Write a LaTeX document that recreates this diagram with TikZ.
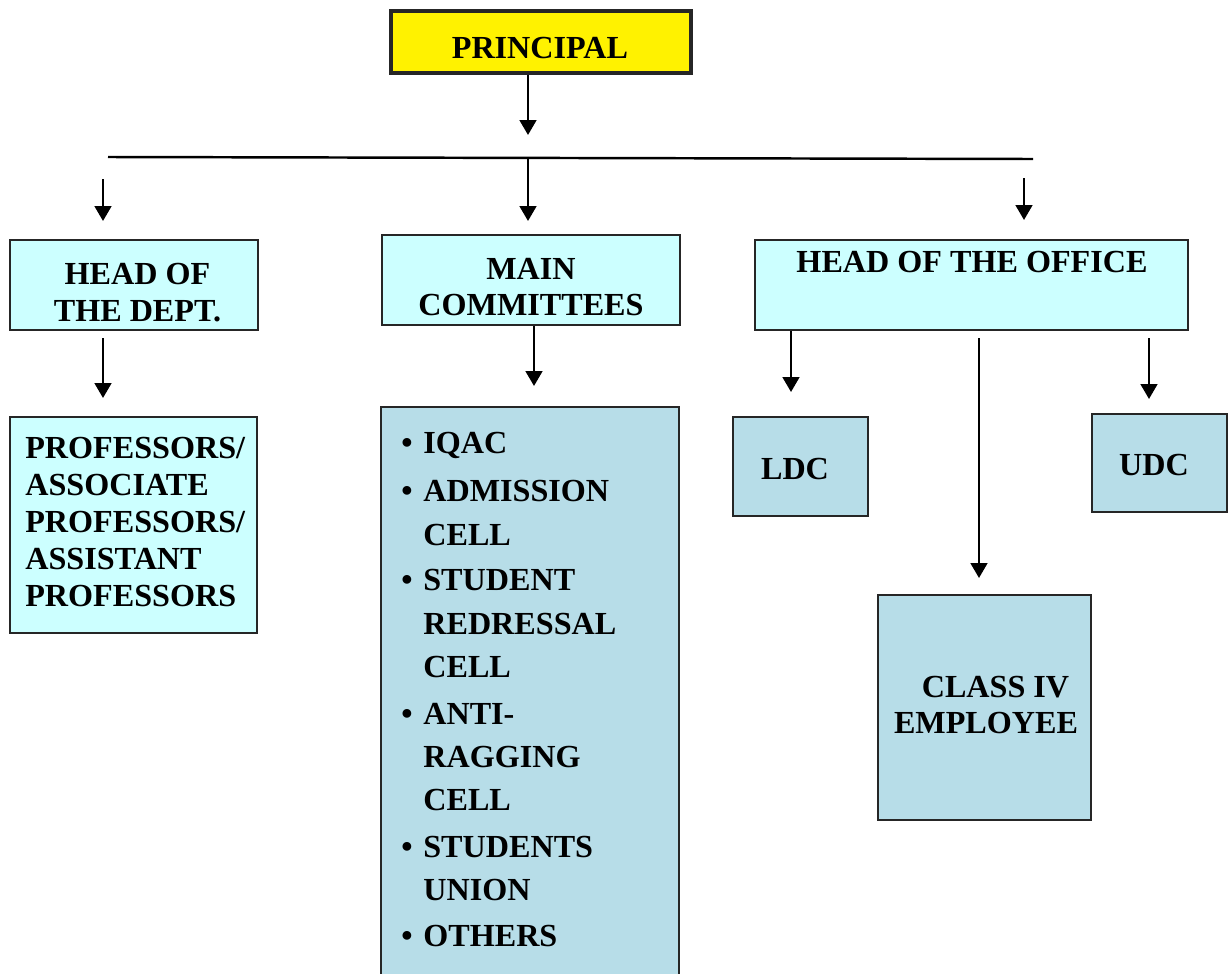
\documentclass[tikz,border=0pt]{standalone}
\usepackage{fontspec}
\setmainfont{Liberation Serif}
\usetikzlibrary{arrows.meta,fit}

\definecolor{paleCyan}{HTML}{CCFFFF}
\definecolor{paleBlue}{HTML}{B7DDE8}

\tikzset{
  box/.style={draw=black!85, line width=.8pt, inner sep=0pt},
  txt/.style={font=\bfseries\fontsize{18.3}{21}\selectfont, inner sep=0pt, align=center},
  link/.style={line width=1.4pt},
  arr/.style={line width=1.4pt, -{Triangle[width=9.5pt,length=8.5pt]}},
}

\begin{document}
\begin{tikzpicture}[x=0.02cm, y=-0.02cm]
  \useasboundingbox (0,0) rectangle (1232,974);

  % principal
  \node[box, fill=yellow, line width=2.2pt, fit={(391,11) (691,73)}] (principal) {};
  \node[txt] (principalTxt) at (540,48.5) {PRINCIPAL};

  % second level
  \node[box, fill=paleCyan, fit={(10,240) (258,330)}] (hod) {};
  \node[txt] (hodTxt) at (137.5,292.5) {HEAD OF\\THE DEPT.};
  \node[box, fill=paleCyan, fit={(382,235) (680,325)}] (main) {};
  \node[txt] (mainTxt) at (531,287) {MAIN\\COMMITTEES};
  \node[box, fill=paleCyan, fit={(755,240) (1188,330)}] (office) {};
  \node[txt] (officeTxt) at (972,262) {HEAD OF THE OFFICE};

  % third level
  \node[box, fill=paleCyan, fit={(10,417) (257,633)}] (prof) {};
  \node[txt, align=left, anchor=north west] (profTxt) at (25,437)
    {PROFESSORS/\\ASSOCIATE\\PROFESSORS/\\ASSISTANT\\PROFESSORS};
  \node[box, fill=paleBlue, fit={(381,407) (679,990)}] (cells) {};
  \foreach \y/\txt/\b [count=\i] in {453/IQAC/1, 501/ADMISSION/1, 545/CELL/0,
      590/STUDENT/1, 634/REDRESSAL/0, 677/CELL/0, 724/ANTI-/1, 767/RAGGING/0,
      810/CELL/0, 857/STUDENTS/1, 900/UNION/0, 946/OTHERS/1} {
    \node[txt, anchor=base west] (line\i) at (423,\y) {\txt};
    \ifnum\b=1 \node[txt, anchor=base] (bul\i) at (407,\y) {\textbullet}; \fi
  }
  \node[box, fill=paleBlue, fit={(733,417) (868,516)}] (ldc) {};
  \node[txt] (ldcTxt) at (795,469) {LDC};
  \node[box, fill=paleBlue, fit={(1092,414) (1227,512)}] (udc) {};
  \node[txt] (udcTxt) at (1154,465) {UDC};
  \node[box, fill=paleBlue, fit={(878,595) (1091,820)}] (classIV) {};
  \node[txt] (classTxt) at (986,705) {\hspace*{.38cm}CLASS IV\\EMPLOYEE};

  % connectors
  \coordinate (p1) at (528,135);
  \draw[arr] (principal.south -| p1) -- (p1);
  \coordinate (barL) at (108,157);
  \coordinate (barR) at (1033,159);
  \draw[link] (barL) -- (barR);

  \coordinate (a1s) at (103,179);
  \coordinate (a1e) at (103,221);
  \coordinate (a2s) at (528,158);
  \coordinate (a2e) at (528,221);
  \coordinate (a3s) at (1024,178);
  \coordinate (a3e) at (1024,220);
  \draw[arr] (a1s) -- (a1e);
  \draw[arr] (a2s) -- (a2e);
  \draw[arr] (a3s) -- (a3e);

  \coordinate (h1s) at (103,338);
  \coordinate (h1e) at (103,398);
  \draw[arr] (h1s) -- (h1e);
  \coordinate (m1) at (534,386);
  \draw[arr] (main.south -| m1) -- (m1);

  \coordinate (o1) at (791,392);
  \draw[arr] (office.south -| o1) -- (o1);
  \coordinate (o2s) at (979,338);
  \coordinate (o2e) at (979,578);
  \draw[arr] (o2s) -- (o2e);
  \coordinate (o3s) at (1149,338);
  \coordinate (o3e) at (1149,399);
  \draw[arr] (o3s) -- (o3e);
\end{tikzpicture}
\end{document}
